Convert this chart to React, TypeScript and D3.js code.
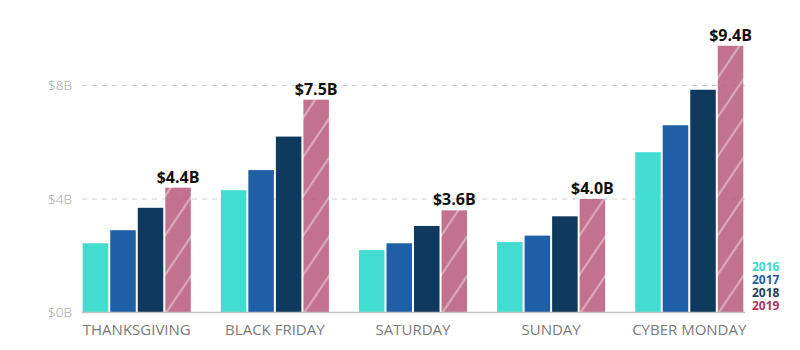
import React from "react";
import * as d3 from "d3";

const categories = ["THANKSGIVING", "BLACK FRIDAY", "SATURDAY", "SUNDAY", "CYBER MONDAY"];
const years = ["2016", "2017", "2018", "2019"];
const values2016 = [2.44, 4.31, 2.2, 2.48, 5.65];
const values2017 = [2.9, 5.02, 2.44, 2.71, 6.6];
const values2018 = [3.69, 6.2, 3.05, 3.39, 7.85];
const values2019 = [4.4, 7.5, 3.6, 4.0, 9.4];
const yTicks = [0, 4, 8];

const seriesValues = [values2016, values2017, values2018, values2019];
const barColors = ["#42DCD1", "#1F5FA5", "#0F3A5D", "#B7587A"];
const legendColors = ["#42D6CB", "#1F5FA5", "#1E3F61", "#A8345F"];

const W = 800;
const H = 350;

export default function App() {
  const x0 = d3.scaleBand<string>().domain(categories).range([82.7, 743.3]).paddingInner(0.2174).paddingOuter(0);
  const x1 = d3.scaleBand<string>().domain(years).range([0, x0.bandwidth()]).paddingInner(0.073);
  const y = d3.scaleLinear().domain([0, 10]).range([312.5, 28.75]);
  const font = "'Segoe UI', 'Open Sans', 'Noto Sans', sans-serif";

  return (
    <svg width={W} height={H} style={{ position: "absolute", left: 0, top: 0, background: "#fff" }} fontFamily={font}>
      <defs>
        <pattern id="stripes" patternUnits="userSpaceOnUse" width={22} height={22} patternTransform="rotate(34)">
          <rect width={22} height={22} fill={barColors[3]} />
          <line x1={2} y1={0} x2={2} y2={22} stroke="rgba(255,255,255,0.4)" strokeWidth={2.2} />
        </pattern>
      </defs>
      {yTicks.map((t) => (
        <g key={t}>
          {t > 0 && (
            <line x1={82} x2={745} y1={y(t)} y2={y(t)} stroke="#cfcfcf" strokeWidth={1} strokeDasharray="5,5" />
          )}
          <text x={72} y={y(t)} dy="0.35em" textAnchor="end" fontSize={13.5} fill="#a0a0a0" fontWeight={300}>
            {`$${t}B`}
          </text>
        </g>
      ))}
      {categories.map((c, ci) => (
        <g key={c} transform={`translate(${x0(c)},0)`}>
          {years.map((yr, si) => {
            const v = seriesValues[si][ci];
            return (
              <rect
                key={yr}
                x={x1(yr)}
                y={y(v)}
                width={x1.bandwidth()}
                height={y(0) - y(v)}
                fill={si === 3 ? "url(#stripes)" : barColors[si]}
                fillOpacity={si === 3 ? 0.85 : 1}
              />
            );
          })}
          <text
            x={(x1("2019") as number) + x1.bandwidth() / 2}
            y={y(values2019[ci]) - 5}
            textAnchor="middle"
            fontSize={16}
            fontWeight={700}
            fill="#111"
          >
            {`$${values2019[ci].toFixed(1)}B`}
          </text>
          <text x={x0.bandwidth() / 2} y={330} dy="0.35em" textAnchor="middle" fontSize={15} fill="#7a7a7a">
            {c}
          </text>
        </g>
      ))}
      <line x1={82} x2={745} y1={y(0)} y2={y(0)} stroke="#c4c4c4" strokeWidth={1.5} />
      {years.map((yr, i) => (
        <text key={yr} x={752} y={267 + i * 13} dy="0.35em" fontSize={12} fontWeight={700} fill={legendColors[i]}>
          {yr}
        </text>
      ))}
    </svg>
  );
}
